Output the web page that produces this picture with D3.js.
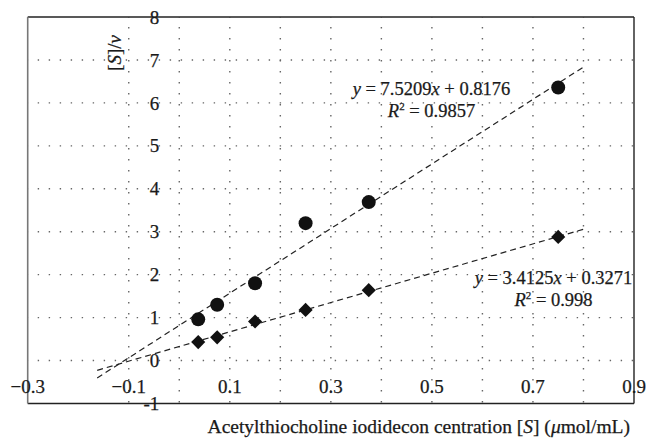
<!DOCTYPE html>
<html>
<head>
<meta charset="utf-8">
<script src="https://cdn.jsdelivr.net/npm/d3@7"></script>
<style>
  html, body { margin: 0; padding: 0; background: #fff; }
  svg { display: block; }
  text { font-family: "Liberation Serif", "Times New Roman", serif; fill: #1a1a1a; stroke: #1a1a1a; stroke-width: 0.25px; }
</style>
</head>
<body>
<svg id="chart" width="647" height="440"></svg>
<script>
// ---- data ----
const concentrations = [0.0375, 0.075, 0.15, 0.25, 0.375, 0.75];
const seriesCircle   = [0.96, 1.30, 1.80, 3.20, 3.69, 6.36];
const seriesDiamond  = [0.43, 0.54, 0.91, 1.18, 1.64, 2.88];
const fitCircle  = { slope: 7.5209, intercept: 0.8176, r2: "0.9857" };
const fitDiamond = { slope: 3.4125, intercept: 0.3271, r2: "0.998" };
const trendRange = [-0.1625, 0.8];
const xTickLabels = [-0.3, -0.1, 0.1, 0.3, 0.5, 0.7, 0.9];
const xGridValues = [-0.1, 0, 0.1, 0.2, 0.3, 0.4, 0.5, 0.6, 0.7, 0.8];
const yTickValues = [-1, 0, 1, 2, 3, 4, 5, 6, 7, 8];
const yGridValues = [0, 1, 2, 3, 4, 5, 6, 7];

// ---- layout ----
const svg = d3.select("#chart");
const x = d3.scaleLinear().domain([-0.3, 0.9]).range([27.7, 634]);
const y = d3.scaleLinear().domain([-1, 8]).range([403.5, 17]);
const [x0, x1] = x.range();
const [yb, yt] = y.range();

// gridlines (dotted)
const grid = svg.append("g").attr("stroke", "#666").attr("stroke-width", 1.4)
  .attr("stroke-dasharray", "1.4,9.6");
grid.selectAll("line.h").data(yGridValues).join("line").attr("class", "h")
  .attr("x1", x0).attr("x2", x1).attr("y1", d => y(d)).attr("y2", d => y(d))
  .attr("stroke-dashoffset", 1);
grid.selectAll("line.v").data(xGridValues).join("line").attr("class", "v")
  .attr("x1", d => x(d)).attr("x2", d => x(d)).attr("y1", yt).attr("y2", yb)
  .attr("stroke-dashoffset", 1);

// frame
svg.append("line").attr("x1", x0).attr("x2", x1).attr("y1", yt).attr("y2", yt)
  .attr("stroke", "#222").attr("stroke-width", 1.4);
svg.append("line").attr("x1", x0).attr("x2", x1).attr("y1", yb).attr("y2", yb)
  .attr("stroke", "#222").attr("stroke-width", 1.4);
svg.append("line").attr("x1", x1).attr("x2", x1).attr("y1", yt).attr("y2", yb)
  .attr("stroke", "#222").attr("stroke-width", 1.4);
svg.append("line").attr("x1", x0).attr("x2", x0).attr("y1", yt).attr("y2", yb)
  .attr("stroke", "#777").attr("stroke-width", 1.6);

// x tick labels
svg.append("g").selectAll("text").data(xTickLabels).join("text")
  .attr("x", d => x(d)).attr("y", y(0) + 32)
  .attr("text-anchor", "middle").attr("font-size", 19)
  .text(d => d3.format(".1f")(d));

// y tick labels (next to x = 0)
svg.append("g").selectAll("text").data(yTickValues).join("text")
  .attr("x", x(0) - 20).attr("y", d => y(d))
  .attr("dy", "0.35em")
  .attr("text-anchor", "end").attr("font-size", 19)
  .text(d => d);

// trend lines
const fits = [fitCircle, fitDiamond];
const line = d3.line().x(d => x(d[0])).y(d => y(d[1]));
svg.append("g").selectAll("path").data(fits).join("path")
  .attr("d", f => line(trendRange.map(v => [v, f.slope * v + f.intercept])))
  .attr("fill", "none").attr("stroke", "#222").attr("stroke-width", 1.2)
  .attr("stroke-dasharray", "6,4");

// markers
svg.append("g").selectAll("circle").data(concentrations).join("circle")
  .attr("cx", d => x(d)).attr("cy", (d, i) => y(seriesCircle[i]))
  .attr("r", 7).attr("fill", "#111");
const diamond = d3.symbol().type(d3.symbolSquare).size(100);
svg.append("g").selectAll("path").data(concentrations).join("path")
  .attr("d", diamond)
  .attr("transform", (d, i) => `translate(${x(d)},${y(seriesDiamond[i])}) rotate(45)`)
  .attr("fill", "#111");

// equation labels
function eqLabel(f, cx, by) {
  const t1 = svg.append("text").attr("x", cx).attr("y", by)
    .attr("text-anchor", "middle").attr("font-size", 18.5);
  t1.append("tspan").attr("font-style", "italic").text("y");
  t1.append("tspan").text(" = " + f.slope.toFixed(4));
  t1.append("tspan").attr("font-style", "italic").text("x");
  t1.append("tspan").text(" + " + f.intercept.toFixed(4));
  const t2 = svg.append("text").attr("x", cx).attr("y", by + 22)
    .attr("text-anchor", "middle").attr("font-size", 18.5);
  t2.append("tspan").attr("font-style", "italic").text("R");
  t2.append("tspan").attr("font-size", 11).attr("dy", -7).text("2");
  t2.append("tspan").attr("dy", 7).text(" = " + f.r2);
}
eqLabel(fitCircle, 431.5, 95);
eqLabel(fitDiamond, 553.5, 284);

// y axis title (rotated)
const yt1 = svg.append("text").attr("transform", "translate(121,53) rotate(-90)")
  .attr("text-anchor", "middle").attr("font-size", 19);
yt1.append("tspan").text("[");
yt1.append("tspan").attr("font-style", "italic").text("S");
yt1.append("tspan").text("]/");
yt1.append("tspan").attr("font-style", "italic").text("v");

// x axis title
const xt = svg.append("text").attr("x", 630).attr("y", 433)
  .attr("text-anchor", "end").attr("font-size", 19.5);
xt.append("tspan").text("Acetylthiocholine iodidecon centration [");
xt.append("tspan").attr("font-style", "italic").text("S");
xt.append("tspan").text("] (");
xt.append("tspan").attr("font-style", "italic").text("μ");
xt.append("tspan").text("mol/mL)");
</script>
</body>
</html>
